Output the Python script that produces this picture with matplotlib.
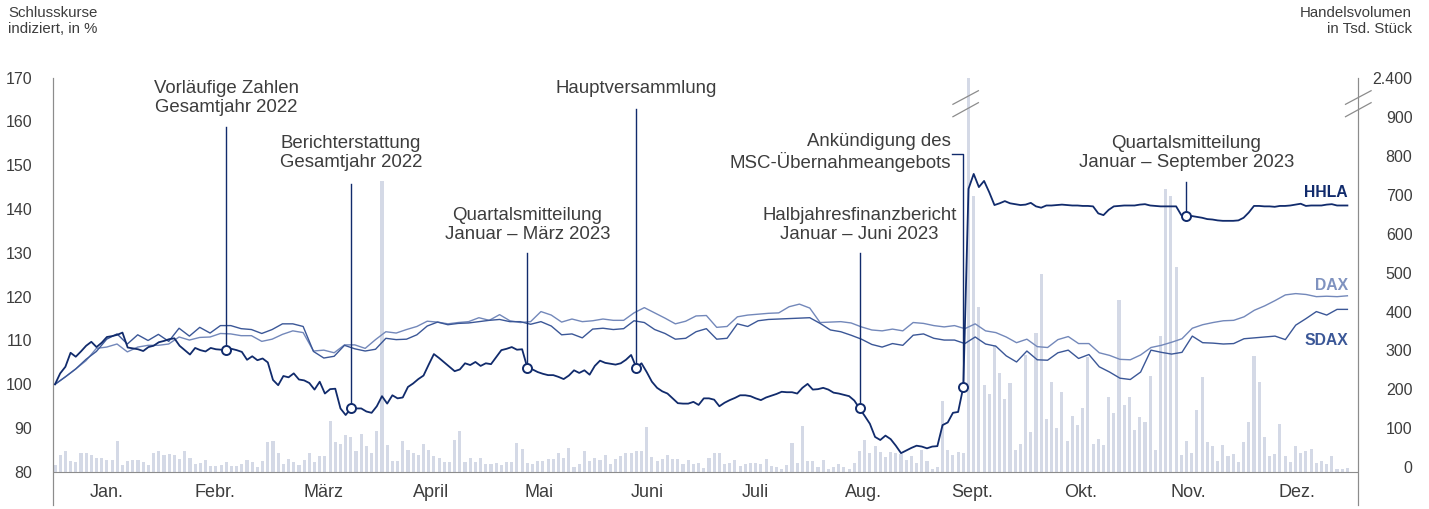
import numpy as np
import matplotlib
matplotlib.use('Agg')
import matplotlib.pyplot as plt
import matplotlib.transforms as mtransforms

plt.rcParams['font.family'] = ['Liberation Sans', 'DejaVu Sans']

# closing prices indexed (%), one value per trading day
hhla = [
    100, 102.5, 104, 107.2, 106.3, 107.5, 108.8, 109.7, 108.5, 109.5,
    110.8, 111, 111.3, 111.8, 108.4, 108.2, 108, 107.6, 108.5, 108.8,
    109.6, 109.9, 110.3, 110.5, 108.8, 107.8, 106.8, 108.3, 107.8, 107.5,
    108.3, 108, 107.9, 107.8, 108.1, 107.8, 107.4, 105.6, 106.4, 105.5,
    105.9, 105, 101, 99.8, 101.9, 101.6, 102.5, 101.1, 100.9, 100.3,
    98.8, 100.6, 97.9, 98.9, 99, 94.5, 93, 94.5, 94.5, 94.5,
    93.8, 93.5, 95, 97.3, 95.6, 97.5, 96.8, 97, 99.4, 100.2,
    101.2, 102, 104.5, 106.9, 106, 105, 104, 103, 103.4, 104.8,
    104.4, 105.1, 104.2, 104.8, 104.6, 106.2, 107.8, 108.1, 108.5, 107.9,
    108, 103.8, 103.4, 102.8, 102.4, 102.1, 102.1, 101.7, 101.2, 102,
    103.2, 102.6, 103.2, 102.2, 104.2, 105.4, 104.9, 104.7, 104.5, 104.8,
    105.6, 106.7, 103.8, 104.8, 102.8, 100.6, 99.2, 98.4, 97.9, 96.8,
    95.7, 95.6, 95.6, 96, 95.3, 96.8, 96.8, 96.5, 95, 95.8,
    96.4, 96.9, 97.5, 97.5, 97.3, 96.8, 96.4, 97, 97.4, 97.8,
    98.3, 98.2, 98.2, 97.9, 99.2, 100.1, 98.8, 98.9, 99.2, 98.8,
    98.1, 97.9, 97.6, 97.3, 96.3, 94.5, 92.8, 91, 88, 87.3,
    88.3, 87.5, 86, 84.3, 84.9, 85.5, 86, 85.8, 85.4, 85.8,
    85.9, 90.7, 91.3, 93.5, 93.7, 99.4, 144.6, 148, 145, 146.4,
    143.8, 140.9, 141.3, 141.8, 141.3, 141.1, 140.9, 141, 141.4, 140.6,
    140.3, 140.8, 140.8, 140.9, 141, 140.9, 140.8, 140.8, 140.7, 140.7,
    140.6, 139, 138.6, 139.8, 140.6, 140.7, 140.8, 140.8, 140.8, 141,
    141.1, 140.8, 140.7, 140.6, 140.6, 140.6, 140.6, 138.6, 138.3, 138.4,
    138.2, 138, 137.7, 137.6, 137.4, 137.3, 137.3, 137.3, 137.4, 138,
    139.2, 140.7, 140.7, 140.6, 140.6, 140.5, 140.7, 140.7, 140.8, 141,
    141.2, 140.7, 140.8, 140.8, 140.8, 141, 141.1, 140.8, 140.8, 140.8,
]

# indices, read about every second trading day
dax = [
    100, 101.7, 103.5, 105.4, 108.2, 108.5, 109.2, 107.4, 108.5, 108.9,
    108.9, 109.2, 110.8, 110.1, 110.7, 110.8, 111.6, 111.5, 111.1, 111.1,
    109.8, 110.3, 111.4, 112.2, 111.8, 107.6, 107.8, 107.2, 109, 109,
    108.2, 110.2, 112, 111.7, 112.5, 113.2, 114.4, 114.2, 113.8, 114.1,
    114.3, 115.2, 114.6, 115.9, 114.5, 114.1, 114.3, 116.6, 115.8, 114.2,
    114.9, 114.3, 114.5, 114.9, 114.6, 114.6, 116.3, 117.5, 116.3, 115.1,
    113.8, 114.4, 115.6, 115.7, 113, 113.2, 115.4, 115.8, 116, 116.2,
    116.3, 117.7, 118.3, 117.4, 114.1, 114.2, 114.3, 114, 113.1, 112.4,
    112.2, 112.6, 112.2, 114.1, 113.9, 113.4, 113.1, 113.4, 112.7, 113.8,
    112.2, 111.8, 110.8, 109.5, 110.3, 108.6, 108.4, 110.2, 110.9, 109.3,
    109.3, 107.2, 106.6, 105.7, 105.6, 106.7, 108.4, 108.9, 109.6, 110.4,
    112.8, 113.6, 114.1, 114.5, 114.6, 115.4, 116.9, 117.9, 119.1, 120.4,
    120.7, 120.5, 120, 120.1, 120, 120.2,
]
sdax = [
    100, 101.7, 103.5, 105.7, 107.5, 110.3, 111.5, 109.2, 111.3, 110,
    111.4, 109.8, 112.8, 111, 113, 111.7, 113.4, 113.4, 112.7, 112.5,
    111.6, 112.5, 113.8, 113.8, 113.2, 107.5, 106, 106.4, 108.9, 108.1,
    107.6, 108, 110.5, 110.2, 110.3, 111.3, 113.3, 114.2, 113.6, 113.9,
    114, 114.3, 114.6, 114.8, 114.3, 114.3, 113.7, 114.3, 113.3, 111.3,
    111.5, 110.6, 112.6, 112.8, 112.5, 112.7, 114.5, 114.1, 112.5, 111.6,
    110.3, 110.5, 112, 112.7, 110.3, 110.5, 113.8, 113.2, 114.5, 114.8,
    114.9, 115, 115.1, 115.2, 113.9, 112.4, 112, 111.2, 110.3, 109.1,
    108.5, 109.3, 108.9, 111.2, 111.5, 110.5, 110.1, 110.1, 109.3, 110.8,
    109.2, 108.7, 106.5, 105.1, 107.6, 105.6, 105.5, 107.2, 107.8, 105.9,
    106.8, 104, 102.8, 101.4, 101.1, 102.8, 107.8, 107.3, 106.9, 107.3,
    111, 109.5, 109.4, 109.2, 109.3, 110.4, 110.6, 110.8, 111, 110.2,
    113.5, 115, 116.6, 115.8, 117.1, 117.1,
]

# HHLA trading volume in thousand shares, one bar per trading day
volume = [
    17, 43, 53, 28, 27, 48, 50, 45, 35, 35, 30, 32, 80, 19, 28, 30, 31, 26, 18, 50,
    54, 43, 46, 45, 33, 54, 35, 20, 22, 32, 15, 15, 17, 25, 15, 15, 21, 30, 25, 12,
    29, 78, 80, 49, 20, 33, 25, 17, 31,
    50, 27, 41, 41, 132, 77, 71, 94, 91, 54, 97, 67, 48, 105, 750, 69, 28, 28, 81, 57,
    50, 45, 72, 57, 41, 37, 26, 26, 82, 105, 27, 35, 27, 35, 20, 21, 22, 18, 27, 27,
    74, 60, 24, 21, 28, 28, 33, 33, 48, 35, 63,
    13, 20, 53, 28, 35, 31, 45, 20, 34, 41, 48, 48, 54, 54, 116,
    39, 28, 33, 45, 33, 33, 20, 31, 20, 24, 11, 37, 50, 48, 20, 24, 30, 15, 20, 24,
    22, 20, 33, 15, 14, 7, 17, 74,
    24, 118, 28, 28, 13, 30, 9,
    14, 20, 14, 9, 22, 54, 82, 50, 67, 52, 39, 51, 48, 46, 31, 41, 22, 57, 29, 9,
    14, 183, 57, 44, 52, 50, 2400,
    710, 425, 224, 200, 327, 255, 188, 228, 57, 71, 301, 104, 357, 509, 136, 232, 114,
    207, 81, 145, 121, 165, 295,
    73, 86, 70, 192, 152, 443, 173, 193, 109, 141, 130, 248, 57, 351,
    729, 709, 527, 45, 80, 50, 160, 245, 78, 68, 28, 69, 40, 47, 27, 76, 130, 298, 232,
    89, 40, 47, 123, 41, 27, 67, 48, 55, 59, 23, 28, 21, 40, 8, 8, 10,
]

months = ['Jan.', 'Febr.', 'März', 'April', 'Mai', 'Juni', 'Juli', 'Aug.',
          'Sept.', 'Okt.', 'Nov.', 'Dez.']

# (trading day, label)
events = [
    (33, 'Vorläufige Zahlen\nGesamtjahr 2022'),
    (57, 'Berichterstattung\nGesamtjahr 2022'),
    (91, 'Quartalsmitteilung\nJanuar – März 2023'),
    (112, 'Hauptversammlung'),
    (155, 'Halbjahresfinanzbericht\nJanuar – Juni 2023'),
    (175, 'Ankündigung des\nMSC-Übernahmeangebots'),
    (218, 'Quartalsmitteilung\nJanuar – September 2023'),
]
vol_ticks = [0, 100, 200, 300, 400, 500, 600, 700, 800, 900, 2400]

navy = '#112b6c'
sdax_c = '#3b5797'
dax_c = '#7388ba'
bar_c = '#d4d9e6'
grey = '#8c8c8c'
txt = '#3d3d3d'

n = len(volume)
days = np.arange(n)
x_hhla = np.arange(len(hhla))
x_idx = np.linspace(0, len(hhla) - 1, len(dax))


# broken volume axis: everything above 900 is squeezed into the top step
def vol_fwd(v):
    v = np.asarray(v, dtype=float)
    return np.where(v > 900, 900 + (v - 900) * 115 / 1500, v)


def vol_inv(v):
    v = np.asarray(v, dtype=float)
    return np.where(v > 900, 900 + (v - 900) * 1500 / 115, v)


fig = plt.figure(figsize=(14.29, 5.09), dpi=100)
ax = fig.add_axes([53 / 1429, 4 / 509, 1305.3 / 1429, 427.5 / 509])
ax2 = ax.twinx()
ax.set_zorder(ax2.get_zorder() + 1)
ax.patch.set_visible(False)

# volume bars
ax2.set_yscale('function', functions=(vol_fwd, vol_inv))
ax2.bar(days, volume, width=0.6, color=bar_c, linewidth=0)
ax2.set_ylim(-84.8, 2400)
ax2.set_yticks(vol_ticks)
ax2.set_yticklabels([f'{v:,}'.replace(',', '.') for v in vol_ticks], ha='right')
ax2.tick_params(axis='y', length=0, pad=39, labelsize=11.5, labelcolor=txt)
# labels of the lower part sit a few pixels above their value
lift = mtransforms.ScaledTranslation(0, 5 / 100, fig.dpi_scale_trans)
for lbl in ax2.get_yticklabels()[:-1]:
    lbl.set_transform(lbl.get_transform() + lift)

# price lines
ax.plot(x_idx, dax, color=dax_c, lw=1.0, zorder=3)
ax.plot(x_idx, sdax, color=sdax_c, lw=1.0, zorder=3)
ax.plot(x_hhla, hhla, color=navy, lw=1.3, zorder=4)

ax.set_xlim(-0.385, 251.1)
ax.set_ylim(72.47, 170)
ax.set_yticks(range(80, 171, 10))
ax.tick_params(axis='y', length=0, pad=15, labelsize=11.5, labelcolor=txt)
ax.set_xticks([])
ax.axhline(80, color=grey, lw=0.8, zorder=2)

for a in (ax, ax2):
    for side in ('top', 'bottom'):
        a.spines[side].set_visible(False)
    a.spines['left'].set_color(grey)
    a.spines['right'].set_color(grey)
    a.spines['left'].set_linewidth(0.8)
    a.spines['right'].set_linewidth(0.8)

# month labels centred in each month
for i, m in enumerate(months):
    ax.text((i + 0.5) * n / 12 - 0.4, 75.4, m, ha='center', va='center',
            fontsize=13, color=txt)

# event annotations
text_y = [165.3, 152.8, 136.4, 167.5, 136.4, 152.8, 152.8]
line_top = [158.6, 145.8, 129.9, 162.9, 129.9, 152.6, 146.1]
for (d, label), ty, lt in zip(events, text_y, line_top):
    y_pt = hhla[d]
    if label.startswith('Ankündigung'):
        ax.text(d - 2.4, ty, label, ha='right', va='center', fontsize=13.4,
                color=txt, linespacing=1.12, multialignment='right')
        ax.plot([d - 2.1, d, d], [lt, lt, y_pt], color=navy, lw=1.0, zorder=5)
    else:
        ax.text(d, ty, label, ha='center', va='center', fontsize=13.4,
                color=txt, linespacing=1.12, multialignment='center')
        ax.plot([d, d], [lt, y_pt], color=navy, lw=1.0, zorder=5)
    ax.plot(d, y_pt, 'o', ms=6.5, mfc='white', mec=navy, mew=1.4, zorder=6)

# series labels
ax.text(249, 143.8, 'HHLA', ha='right', va='center', fontsize=11.3,
        fontweight='bold', color=navy)
ax.text(249.2, 122.6, 'DAX', ha='right', va='center', fontsize=11.3,
        fontweight='bold', color='#7f92bf')
ax.text(249.2, 110.1, 'SDAX', ha='right', va='center', fontsize=11.3,
        fontweight='bold', color=sdax_c)

# break marks on the tall bar and on the right axis
tall = int(np.argmax(volume))
bt = mtransforms.blended_transform_factory(ax.transData, ax.transAxes)
for y0, y1 in [(0.9373, 0.9691), (0.9083, 0.9411)]:
    ax.plot([tall - 3.0, tall + 1.9], [y0, y1], color=grey, lw=0.9,
            transform=bt, zorder=7)
    ax.plot([0.9902, 1.0098], [y0, y1], color=grey, lw=0.9,
            transform=ax.transAxes, clip_on=False, zorder=7)

# axis titles
fig.text(8 / 1429, 1 - 6 / 509, 'Schlusskurse\nindiziert, in %', ha='left',
         va='top', fontsize=10.8, color=txt, linespacing=1.2)
fig.text(1412 / 1429, 1 - 6 / 509, 'Handelsvolumen\nin Tsd. Stück', ha='right',
         va='top', fontsize=10.8, color=txt, linespacing=1.2,
         multialignment='right')

fig.savefig('out.png', dpi=100)
